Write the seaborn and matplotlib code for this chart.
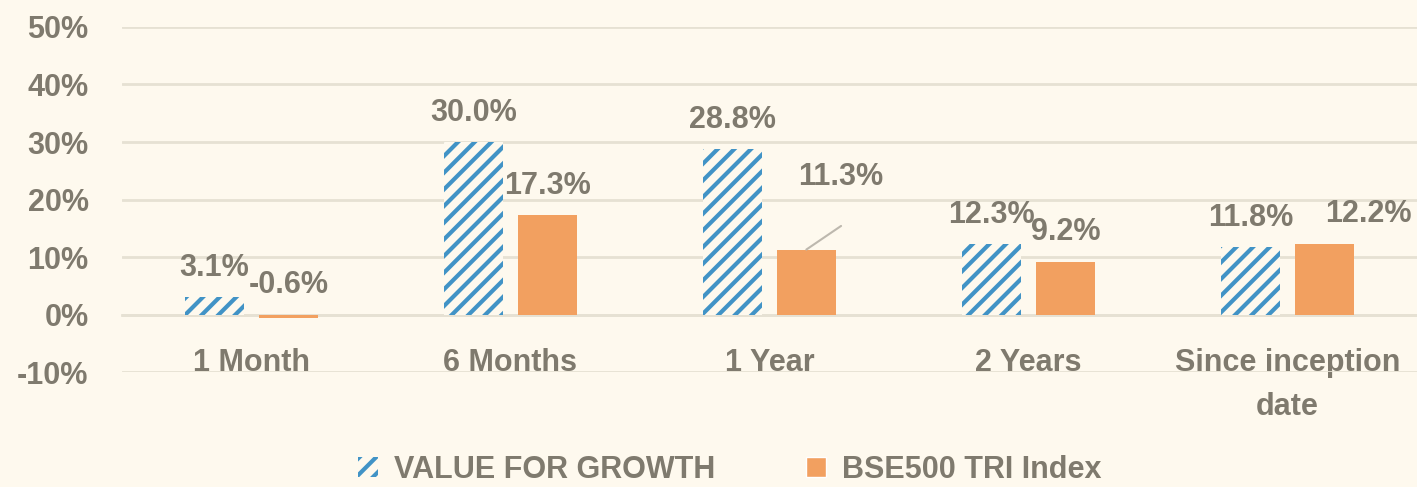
import pandas as pd
import matplotlib.pyplot as plt
import seaborn as sns
from matplotlib.patches import Patch
from matplotlib.ticker import PercentFormatter

# Dados do gráfico (retornos em %)
periodos = ['1 Month', '6 Months', '1 Year', '2 Years', 'Since inception\ndate']
serie_fundo = 'VALUE FOR GROWTH'
serie_indice = 'BSE500 TRI Index'
retorno_fundo = [3.1, 30.0, 28.8, 12.3, 11.8]
retorno_indice = [-0.6, 17.3, 11.3, 9.2, 12.2]
ticks_y = [-10, 0, 10, 20, 30, 40, 50]

df = pd.DataFrame({
    'Periodo': periodos * 2,
    'Serie': [serie_fundo] * len(periodos) + [serie_indice] * len(periodos),
    'Retorno': retorno_fundo + retorno_indice,
})

# Cores e estilo
fundo = '#FEF9EE'
azul = '#4193C6'
laranja = '#F2A060'
cinza_texto = '#7F7A6E'
cinza_grade = '#E6E1D3'

sns.set_style('white')
plt.rcParams['font.family'] = ['Liberation Sans', 'DejaVu Sans']
plt.rcParams['font.weight'] = 'bold'
plt.rcParams['hatch.linewidth'] = 3.0
plt.rcParams['axes.unicode_minus'] = False
tam = 22

fig = plt.figure(figsize=(14.17, 4.87), dpi=100, facecolor=fundo)
ax = fig.add_axes([0.086, 0.236, 0.914, 0.7086])
ax.set_facecolor(fundo)

sns.barplot(data=df, x='Periodo', y='Retorno', hue='Serie',
            palette=[azul, laranja], saturation=1, width=0.57, gap=0.2,
            linewidth=0, legend=False, ax=ax, zorder=2)

# Barras hachuradas para o fundo
for barra in ax.containers[0]:
    barra.set_facecolor(fundo)
    barra.set_edgecolor(azul)
    barra.set_hatch('//')
    barra.set_linewidth(0)

ax.set_ylim(-10, 50)
ax.set_yticks(ticks_y)
ax.yaxis.set_major_formatter(PercentFormatter(decimals=0))
ax.yaxis.grid(True, color=cinza_grade, linewidth=2, zorder=0)
ax.set_axisbelow(True)
for lado in ['top', 'right', 'left']:
    ax.spines[lado].set_visible(False)
ax.spines['bottom'].set_position(('data', 0))
ax.spines['bottom'].set_color(cinza_grade)
ax.spines['bottom'].set_linewidth(2)
ax.spines['bottom'].set_zorder(0.5)
ax.tick_params(axis='both', length=0, labelsize=tam, labelcolor=cinza_texto)
ax.tick_params(axis='y', pad=24)
ax.tick_params(axis='x', pad=24)
for rotulo in ax.get_xticklabels():
    rotulo.set_linespacing(1.6)
ax.set_xlabel('')
ax.set_ylabel('')

# Rótulos de dados
estilo = dict(ha='center', va='center', fontsize=tam, fontweight='bold',
              color=cinza_texto, textcoords='offset points')
for i, barra in enumerate(ax.containers[0]):
    xc = barra.get_x() + barra.get_width() / 2
    ax.annotate(f'{retorno_fundo[i]:.1f}%', (xc, max(retorno_fundo[i], 0)),
                xytext=(0, 21), **estilo)
for i, barra in enumerate(ax.containers[1]):
    xc = barra.get_x() + barra.get_width() / 2
    v = retorno_indice[i]
    if i == 2:
        # rótulo deslocado com linha de chamada
        ax.annotate(f'{v:.1f}%', (xc, v), xytext=(25, 52), **estilo)
        ax.annotate('', (xc, v), xytext=(25, 17), textcoords='offset points',
                    arrowprops=dict(arrowstyle='-', color='#BDB8AE', lw=1.5,
                                    shrinkA=0, shrinkB=0))
    elif i == 4:
        ax.annotate(f'{v:.1f}%', (xc, v), xytext=(32, 22), **estilo)
    else:
        ax.annotate(f'{v:.1f}%', (xc, max(v, 0)), xytext=(0, 21), **estilo)

# Legenda
alcas = [Patch(facecolor=fundo, edgecolor=azul, hatch='//', linewidth=0, label=serie_fundo),
         Patch(facecolor=laranja, label=serie_indice)]
leg = fig.legend(handles=alcas, loc='center', bbox_to_anchor=(0.515, 0.035), ncol=2,
                 frameon=False, fontsize=tam, handlelength=0.65, handleheight=0.65,
                 columnspacing=3.0, handletextpad=0.5)
for t in leg.get_texts():
    t.set_color(cinza_texto)

fig.savefig('out.png', dpi=100, facecolor=fundo)
